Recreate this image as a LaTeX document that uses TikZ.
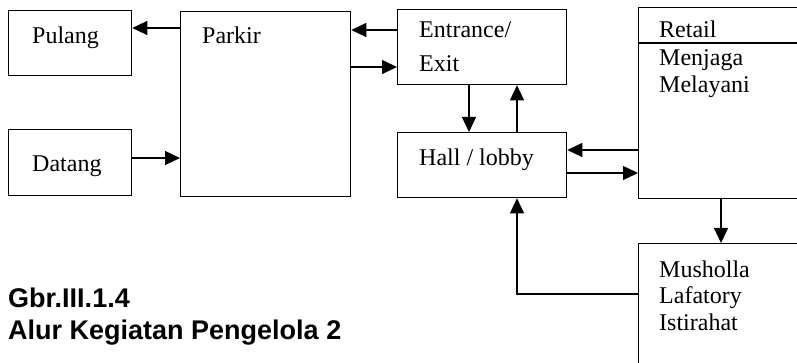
\documentclass[tikz,border=0pt]{standalone}
\usepackage{fontspec}
\setmainfont{Liberation Serif}
\newfontfamily\capfont{Liberation Sans}
\usetikzlibrary{arrows.meta}
\begin{document}
\begin{tikzpicture}[x=1pt,y=-1pt,
  box/.style={draw,line width=1.3pt,rectangle,inner sep=0pt,anchor=north west},
  lbl/.style={anchor=base west,inner sep=0pt,font=\fontsize{24}{28}\selectfont},
  arr/.style={line width=1.3pt,-{Triangle[length=15pt,width=14pt]}},
  captxt/.style={anchor=base west,inner sep=0pt,font=\capfont\bfseries\fontsize{27}{30}\selectfont}]
\useasboundingbox (0,0) rectangle (797,363);
\begin{scope}
\clip (0,0) rectangle (797,363);
% boxes
\node[box,minimum width=123pt,minimum height=65pt] (pulang) at (8,10) {};
\node[box,minimum width=123pt,minimum height=66pt] (datang) at (8,129) {};
\node[box,minimum width=170pt,minimum height=185pt] (parkir) at (180,11) {};
\node[box,minimum width=169pt,minimum height=75pt] (entrance) at (397,9) {};
\node[box,minimum width=169pt,minimum height=65pt] (hall) at (397,132) {};
\node[box,minimum width=200pt,minimum height=191pt] (retail) at (638,7) {};
\node[box,minimum width=200pt,minimum height=150pt] (musholla) at (638,243) {};
\coordinate (div) at (638,43);
\draw[line width=1.3pt] (div) -- (800,43);
% labels
\node[lbl] (tpulang) at (32,44) {Pulang};
\node[lbl] (tparkir) at (202,44) {Parkir};
\node[lbl] (tdatang) at (32,172) {Datang};
\node[lbl] (tentr) at (419,38) {Entrance/};
\node[lbl] (texit) at (419,72) {Exit};
\node[lbl] (thall) at (419,166) {Hall / lobby};
\node[lbl] (tretail) at (659,38) {Retail};
\node[lbl] (tmenjaga) at (659,66) {Menjaga};
\node[lbl] (tmelayani) at (659,93) {Melayani};
\node[lbl] (tmush) at (659,277) {Musholla};
\node[lbl] (tlaf) at (659,303) {Lafatory};
\node[lbl] (tist) at (659,330) {Istirahat};
% connectors
\draw[arr] (parkir.west |- 0,28) -- (pulang.east |- 0,28);
\draw[arr] (datang.east |- 0,158) -- (parkir.west |- 0,158);
\draw[arr] (entrance.west |- 0,30) -- (parkir.east |- 0,30);
\draw[arr] (parkir.east |- 0,67) -- (entrance.west |- 0,67);
\draw[arr] (entrance.south -| 469,0) -- (hall.north -| 469,0);
\draw[arr] (hall.north -| 517,0) -- (entrance.south -| 517,0);
\draw[arr] (retail.west |- 0,150) -- (hall.east |- 0,150);
\draw[arr] (hall.east |- 0,173) -- (retail.west |- 0,173);
\draw[arr] (retail.south -| 721,0) -- (musholla.north -| 721,0);
\draw[arr] (musholla.west |- 0,294) -| (hall.south -| 517,0);
\end{scope}
% caption
\node[captxt] (gbr) at (8,307) {Gbr.III.1.4};
\node[captxt] (alur) at (8,339) {Alur Kegiatan Pengelola 2};
\end{tikzpicture}
\end{document}
